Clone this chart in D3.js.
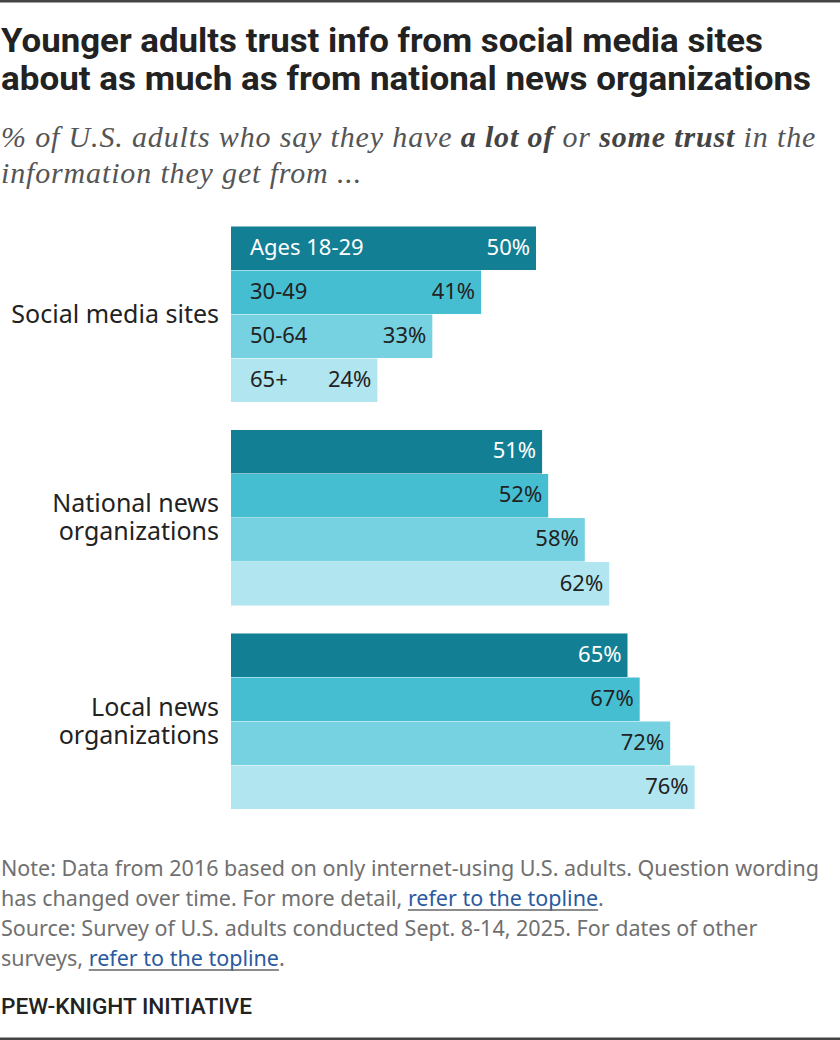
<!DOCTYPE html>
<html>
<head>
<meta charset="utf-8">
<script src="https://cdn.jsdelivr.net/npm/d3@7/dist/d3.min.js"></script>
<style>
  html, body { margin: 0; padding: 0; background: #fff; }
  svg { display: block; }
</style>
</head>
<body>
<div id="chart"></div>
<script>
// Chart data
const categories = [
  ['Social media sites'],
  ['National news', 'organizations'],
  ['Local news', 'organizations']
];
const ageGroups = ['Ages 18-29', '30-49', '50-64', '65+'];
const socialValues = [50, 41, 33, 24];
const nationalValues = [51, 52, 58, 62];
const localValues = [65, 67, 72, 76];
const seriesValues = [socialValues, nationalValues, localValues];

const titleLines = [
  'Younger adults trust info from social media sites',
  'about as much as from national news organizations'
];
const noteLines = [
  [{ t: 'Note: Data from 2016 based on only internet-using U.S. adults. Question wording' }],
  [{ t: 'has changed over time. For more detail, ' }, { t: 'refer to the topline', link: true }, { t: '.' }],
  [{ t: 'Source: Survey of U.S. adults conducted Sept. 8-14, 2025. For dates of other' }],
  [{ t: 'surveys, ' }, { t: 'refer to the topline', link: true }, { t: '.' }]
];

const colors = ['#127f94', '#46bed2', '#76d2e1', '#b1e5ef'];
const width = 840;
const height = 1040;

const sansFont = '"Noto Sans", "Liberation Sans", Arial, sans-serif';
const boldFont = 'Roboto, "Liberation Sans", Arial, sans-serif';
const serifFont = '"Liberation Serif", "DejaVu Serif", serif';

const svg = d3.select('#chart')
  .append('svg')
  .attr('width', width)
  .attr('height', height);

// top and bottom rules
svg.append('rect').attr('x', 0).attr('y', 0).attr('width', width).attr('height', 2.5).attr('fill', '#444');
svg.append('rect').attr('x', 0).attr('y', 1037.5).attr('width', width).attr('height', 2.5).attr('fill', '#444');

/**
 * Sets a text to a given width (small squeeze or stretch), 
 * standing in for the condensed face of the original.
 */
const fitWidth = (sel, target) => {
  sel.attr('textLength', target)
    .attr('lengthAdjust', 'spacingAndGlyphs');
};

// Title
const titleWidths = [762, 810];
svg.append('g')
  .selectAll('text')
  .data(titleLines)
  .enter()
  .append('text')
  .attr('x', 1)
  .attr('y', (d, i) => 52 + i * 38)
  .attr('font-family', boldFont)
  .attr('font-weight', 'bold')
  .attr('font-size', 34)
  .attr('fill', '#222')
  .text(d => d)
  .each(function (d, i) { fitWidth(d3.select(this), titleWidths[i]); });

// Subtitle (mixed italic / bold italic)
const subtitle = svg.append('text')
  .attr('font-family', serifFont)
  .attr('font-style', 'italic')
  .attr('font-size', 30)
  .attr('letter-spacing', 0.85)
  .attr('fill', '#555');

const sub1 = subtitle.append('tspan').attr('x', 1).attr('y', 147);
sub1.append('tspan').text('% of U.S. adults who say they have ');
sub1.append('tspan').attr('font-weight', 'bold').attr('fill', '#444').text('a lot of');
sub1.append('tspan').text(' or ');
sub1.append('tspan').attr('font-weight', 'bold').attr('fill', '#444').text('some trust');
sub1.append('tspan').text(' in the');
subtitle.append('tspan').attr('x', 1).attr('y', 183).text('information they get from ...');

// Scales
const x = d3.scaleLinear()
  .domain([0, 100])
  .range([231, 841]);

const y = d3.scaleBand()
  .domain(d3.range(categories.length))
  .range([226, 809])
  .paddingInner(0.135)
  .paddingOuter(0);

const yInner = d3.scaleBand()
  .domain(ageGroups)
  .range([0, y.bandwidth()]);

const groups = svg.append('g')
  .attr('class', 'groups')
  .selectAll('g.group')
  .data(categories)
  .enter()
  .append('g')
  .attr('class', 'group')
  .attr('transform', (d, i) => `translate(0, ${y(i)})`);

// category labels, one text per line
groups.each(function (d) {
  const top = y.bandwidth() / 2 + 9 - (d.length - 1) * 14;
  d3.select(this)
    .selectAll('text.cat')
    .data(d)
    .enter()
    .append('text')
    .attr('class', 'cat')
    .attr('x', 219)
    .attr('y', (line, j) => top + j * 28)
    .attr('text-anchor', 'end')
    .attr('font-family', sansFont)
    .attr('font-size', 25)
    .attr('fill', '#222')
    .text(line => line);
});

// bars
const bars = groups.selectAll('g.bar')
  .data((d, i) => seriesValues[i].map((v, j) => ({ value: v, age: ageGroups[j], idx: j, group: i })))
  .enter()
  .append('g')
  .attr('class', 'bar');

bars.append('rect')
  .attr('x', x(0))
  .attr('y', d => yInner(d.age) + 0.5)
  .attr('width', d => x(d.value) - x(0))
  .attr('height', yInner.bandwidth() - 0.5)
  .attr('fill', d => colors[d.idx]);

// value labels
bars.append('text')
  .attr('x', d => x(d.value) - 6)
  .attr('y', d => yInner(d.age) + yInner.bandwidth() / 2 + 7)
  .attr('text-anchor', 'end')
  .attr('font-family', sansFont)
  .attr('font-size', 22)
  .attr('fill', d => d.idx === 0 ? '#fff' : '#222')
  .text(d => d.value + '%');

// age labels, only on first group
bars.filter(d => d.group === 0)
  .append('text')
  .attr('x', 250)
  .attr('y', d => yInner(d.age) + yInner.bandwidth() / 2 + 7)
  .attr('font-family', sansFont)
  .attr('font-size', 22)
  .attr('fill', d => d.idx === 0 ? '#fff' : '#222')
  .text(d => d.age);

// Notes, pieces laid out one after another so links can be underlined
const notes = svg.append('g').attr('class', 'notes');
noteLines.forEach((pieces, i) => {
  let cx = 1;
  const by = 876 + i * 30;
  pieces.forEach(p => {
    const t = notes.append('text')
      .attr('x', cx)
      .attr('y', by)
      .attr('font-family', sansFont)
      .attr('font-size', 21.5)
      .attr('fill', p.link ? '#2a5a9e' : '#707070')
      .attr('xml:space', 'preserve')
      .style('white-space', 'pre')
      .text(p.t);
    const w = t.node().getComputedTextLength();
    if (p.link) {
      notes.append('line')
        .attr('x1', cx).attr('x2', cx + w)
        .attr('y1', by + 4).attr('y2', by + 4)
        .attr('stroke', '#666')
        .attr('stroke-width', 1.5);
    }
    cx += w;
  });
});

svg.append('text')
  .attr('x', 1)
  .attr('y', 1014)
  .attr('font-family', boldFont)
  .attr('font-weight', 500)
  .attr('font-size', 22)
  .attr('fill', '#222')
  .text('PEW-KNIGHT INITIATIVE')
  .call(fitWidth, 251);
</script>
</body>
</html>
